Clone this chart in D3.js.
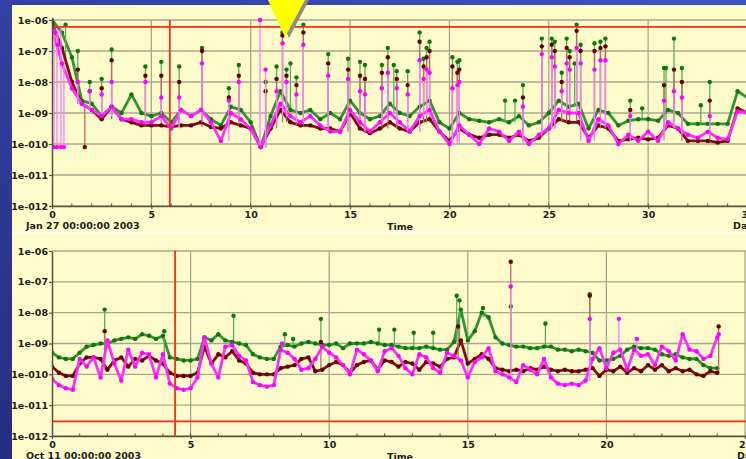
<!DOCTYPE html>
<html>
<head>
<meta charset="utf-8">
<script src="https://cdn.jsdelivr.net/npm/d3@7"></script>
<style>
body { margin: 0; overflow: hidden; background: #2e3890; }
svg text { font-family: "DejaVu Sans", sans-serif; font-weight: bold; font-size: 9.5px; fill: #1d1d18; }
</style>
</head>
<body>
<svg width="746" height="459"></svg>
<script>
// y axis (log) ticks
var yTickValues = [1e-6, 1e-7, 1e-8, 1e-9, 1e-10, 1e-11, 1e-12];
var yTickLabels = ["1e-06", "1e-07", "1e-08", "1e-09", "1e-010", "1e-011", "1e-012"];

// ---- top panel: Jan 27 2003 ----
var topStart = "Jan 27 00:00:00 2003";
var topXTicks = [0, 5, 10, 15, 20, 25, 30, 35];
var topXLabels = ["0", "5", "10", "15", "20", "25", "30", "35"];
var topRedLevel = 6e-7, topRedTime = 5.93;

// sample times (days) and log10 of the flux for each series
var topT = [0,0.5,1,1.5,2,2.5,3,3.5,4,4.5,5,5.5,6,6.5,7,7.5,8,8.5,9,9.5,10,10.5,11,11.5,12,12.5,13,13.5,14,14.5,
  15,15.5,16,16.5,17,17.5,18,18.5,19,19.5,20,20.5,21,21.5,22,22.5,23,23.5,24,24.5,25,25.5,26,26.5,27,27.5,28,28.5,29,29.5,
  30,30.5,31,31.5,32,32.5,33,33.5,34,34.5,35];
var topGreen = [-6.0,-6.4,-7.2,-8.6,-8.7,-9.1,-8.8,-9.0,-8.4,-9.0,
  -9.1,-9.0,-9.3,-8.9,-9.1,-8.9,-9.2,-9.4,-8.8,-8.9,
  -9.3,-10.1,-9.1,-8.3,-8.9,-9.0,-8.9,-9.2,-9.0,-9.2,
  -8.6,-9.0,-9.2,-9.1,-8.7,-9.0,-9.1,-8.8,-8.6,-9.3,
  -9.5,-9.0,-9.2,-9.25,-9.3,-9.2,-9.3,-9.1,-9.4,-9.3,
  -9.0,-8.6,-8.8,-8.7,-9.5,-8.9,-9.0,-9.4,-9.25,-9.2,
  -9.2,-9.25,-8.9,-9.0,-9.35,-9.35,-9.35,-9.35,-9.35,-8.3,-8.5];
var topMaroon = [-6.1,-6.9,-8.0,-8.7,-8.9,-9.2,-8.8,-9.2,-9.3,-9.4,
  -9.4,-9.4,-9.45,-9.4,-9.4,-9.3,-9.45,-9.5,-9.3,-9.4,
  -9.5,-10.1,-9.5,-8.9,-9.3,-9.4,-9.4,-9.5,-9.5,-9.6,
  -9.0,-9.5,-9.65,-9.5,-9.3,-9.5,-9.6,-9.3,-9.2,-9.6,
  -9.9,-9.5,-9.7,-9.8,-9.7,-9.7,-9.8,-9.7,-9.9,-9.8,
  -9.5,-9.2,-9.3,-9.3,-9.8,-9.4,-9.5,-9.9,-9.85,-9.8,
  -9.85,-9.8,-9.4,-9.5,-9.9,-9.9,-9.9,-9.95,-9.9,-8.85,-9.0];
var topMagenta = [-6.3,-7.4,-8.2,-8.7,-8.9,-9.1,-8.8,-9.2,-9.2,-9.3,
  -9.3,-9.1,-9.5,-8.9,-9.1,-8.9,-9.3,-9.9,-9.0,-9.2,
  -9.5,-10.1,-9.4,-8.7,-9.1,-9.3,-9.1,-9.4,-9.6,-9.6,
  -8.9,-9.3,-9.6,-9.3,-9.0,-9.3,-9.6,-9.1,-8.9,-9.6,
  -10.0,-9.4,-9.7,-10.0,-9.5,-9.6,-9.9,-9.6,-10.0,-9.7,
  -9.5,-8.9,-9.0,-9.0,-9.9,-9.2,-9.4,-10.0,-9.7,-9.9,
  -9.6,-9.9,-9.3,-9.5,-9.7,-9.8,-9.6,-9.8,-9.85,-8.95,-9.0];
// flare peaks [time, log10 flux]
var topGreenPeaks = [[0.68,-6.15],[1.3,-7.0],[1.9,-8.0],[2.5,-7.9],[3.0,-6.95],[4.7,-7.5],[5.5,-7.35],[6.4,-7.5],[7.55,-6.9],
  [8.9,-8.2],[9.4,-7.45],[10.75,-8.0],[11.3,-7.5],[11.6,-6.4],[11.8,-7.6],[12.0,-7.4],[12.3,-7.85],[12.65,-6.15],[13.9,-7.1],
  [14.9,-7.25],[15.5,-7.35],[15.75,-7.45],[16.6,-7.45],[16.9,-6.9],[17.2,-7.45],[17.35,-7.65],[17.9,-7.65],[18.5,-6.4],
  [18.7,-7.25],[18.85,-6.9],[19.0,-6.7],[20.15,-7.2],[20.4,-7.35],[20.5,-7.3],[22.8,-8.6],[23.3,-8.6],[23.7,-8.1],
  [24.65,-6.6],[25.15,-6.6],[25.3,-6.7],[25.65,-7.7],[25.9,-6.6],[26.05,-7.0],[26.3,-7.4],[26.4,-6.15],[26.6,-6.8],
  [27.3,-6.75],[27.6,-6.7],[27.85,-6.6],[29.1,-8.6],[29.7,-8.85],[30.8,-7.55],[30.9,-7.55],[31.3,-6.6],[31.7,-7.55],
  [32.65,-8.75],[33.1,-8.0]];
var topMaroonPeaks = [[1.3,-7.6],[1.65,-10.1],[1.9,-8.3],[2.5,-8.2],[3.0,-7.3],[4.7,-7.8],[5.5,-7.8],[6.4,-8.0],[7.55,-7.0],
  [8.9,-8.5],[9.4,-7.8],[10.75,-8.3],[11.3,-7.9],[11.6,-6.5],[11.8,-7.8],[12.3,-8.1],[12.65,-6.4],[13.9,-7.4],[14.9,-7.6],
  [15.5,-7.8],[15.75,-7.9],[16.6,-7.7],[16.9,-7.2],[17.35,-7.9],[17.9,-8.1],[18.5,-6.7],[18.7,-7.5],[18.85,-7.2],[19.0,-7.0],
  [20.15,-7.5],[20.4,-7.7],[20.5,-7.6],[23.7,-8.5],[24.65,-6.85],[25.15,-6.8],[25.3,-7.0],[25.65,-8.0],[25.9,-6.9],
  [26.05,-7.2],[26.4,-6.35],[26.6,-7.0],[27.3,-7.0],[27.6,-6.9],[27.85,-6.85],[29.1,-8.9],[30.8,-8.1],[31.3,-7.6],
  [31.7,-8.0],[33.1,-8.6]];
var topMagentaPeaks = [[0.1,-10.1],[0.15,-6.4],[0.25,-10.1],[0.3,-6.8],[0.45,-10.1],[0.6,-10.1],[1.3,-8.0],[1.9,-8.3],
  [2.5,-8.4],[3.0,-8.0],[4.7,-8.0],[5.5,-8.5],[6.4,-8.5],[7.55,-7.4],[8.9,-8.6],[9.4,-8.0],[10.47,-6.0],[10.75,-7.6],
  [11.3,-8.3],[11.6,-6.75],[11.8,-8.0],[12.3,-8.4],[12.65,-6.8],[13.9,-7.8],[14.9,-7.9],[15.5,-8.3],[15.75,-8.4],
  [16.6,-8.2],[16.9,-7.7],[17.35,-8.2],[17.9,-8.4],[18.5,-7.3],[18.7,-7.9],[18.85,-7.6],[19.0,-7.7],[20.15,-8.2],
  [20.4,-8.1],[20.5,-8.0],[23.7,-8.8],[24.65,-7.1],[25.15,-7.2],[25.3,-7.5],[25.65,-8.3],[25.9,-7.4],[26.05,-7.6],
  [26.4,-6.9],[26.6,-7.4],[27.3,-7.6],[27.6,-7.3],[27.85,-7.3],[29.1,-9.1],[30.8,-8.6],[31.3,-8.3],[31.7,-8.5],[33.1,-9.1]];

// ---- bottom panel: Oct 11 2003 ----
var botStart = "Oct 11 00:00:00 2003";
var botXTicks = [0, 5, 10, 15, 20, 25];
var botXLabels = ["0", "5", "10", "15", "20", "25"];
var botRedLevel = 3e-12, botRedTime = 4.44;

var botT = [0,0.25,0.5,0.75,1,1.25,1.5,1.75,
  2,2.25,2.5,2.75,3,3.25,3.5,3.75,
  4,4.25,4.5,4.75,5,5.25,5.5,5.75,
  6,6.25,6.5,6.75,7,7.25,7.5,7.75,
  8,8.25,8.5,8.75,9,9.25,9.5,9.75,
  10,10.25,10.5,10.75,11,11.25,11.5,11.75,
  12,12.25,12.5,12.75,13,13.25,13.5,13.75,
  14,14.25,14.5,14.75,15,15.25,15.5,15.75,
  16,16.25,16.5,16.75,17,17.25,17.5,17.75,
  18,18.25,18.5,18.75,19,19.25,19.5,19.75,
  20,20.25,20.5,20.75,21,21.25,21.5,21.75,
  22,22.25,22.5,22.75,23,23.25,23.5,23.75,
  24];
var botGreen = [-9.3,-9.45,-9.5,-9.5,-9.3,-9.1,-9.05,-9.0,
  -9.0,-8.9,-8.85,-8.8,-8.85,-8.7,-8.75,-8.85,
  -8.75,-9.45,-9.5,-9.55,-9.55,-9.5,-8.8,-8.9,
  -8.7,-8.9,-8.95,-9.0,-9.05,-9.35,-9.45,-9.5,
  -9.5,-9.1,-9.05,-9.1,-9.0,-8.95,-9.0,-9.05,
  -9.05,-9.0,-9.15,-9.0,-9.0,-9.0,-8.95,-9.0,
  -9.05,-9.05,-9.1,-9.15,-9.15,-9.15,-9.1,-9.15,
  -9.2,-9.2,-8.95,-7.9,-8.9,-8.6,-8.0,-8.15,
  -8.8,-9.0,-9.05,-9.1,-9.1,-9.15,-9.15,-9.1,
  -9.1,-9.2,-9.2,-9.25,-9.2,-9.25,-9.3,-9.55,
  -9.55,-9.5,-9.4,-9.2,-9.1,-9.15,-9.15,-9.2,
  -9.35,-9.4,-9.35,-9.45,-9.5,-9.5,-9.7,-9.8,
  -9.8];
var botMaroon = [-9.75,-9.95,-10.05,-10.05,-9.65,-9.45,-9.45,-9.5,
  -9.85,-9.55,-9.45,-9.75,-9.5,-9.55,-9.4,-9.55,
  -9.65,-9.95,-10.05,-10.05,-10.05,-9.95,-9.1,-9.65,
  -9.35,-9.45,-9.25,-9.55,-9.65,-9.95,-10.0,-10.0,
  -10.0,-9.8,-9.75,-9.7,-9.5,-9.45,-9.9,-9.85,
  -9.7,-9.6,-9.7,-9.95,-9.7,-9.6,-9.55,-9.85,
  -9.55,-9.6,-9.75,-9.6,-9.65,-9.85,-9.6,-9.65,
  -9.75,-9.5,-9.45,-8.9,-9.65,-9.5,-9.35,-9.5,
  -9.8,-9.85,-9.9,-9.85,-9.9,-9.8,-9.85,-9.75,
  -9.85,-9.9,-9.85,-9.9,-9.9,-9.85,-9.8,-10.05,
  -9.85,-9.9,-9.75,-9.95,-9.8,-9.9,-9.7,-9.85,
  -9.7,-9.9,-9.8,-9.9,-9.85,-10.0,-10.05,-9.9,
  -9.95];
var botMagenta = [-10.15,-10.35,-10.45,-10.5,-9.5,-9.75,-9.45,-10.1,
  -8.9,-9.65,-10.2,-9.2,-9.75,-9.3,-9.35,-10.1,
  -9.35,-10.3,-10.45,-10.5,-10.45,-10.1,-8.8,-9.65,
  -10.1,-9.1,-9.05,-9.4,-9.55,-10.25,-10.35,-10.4,
  -10.35,-9.2,-9.3,-9.5,-9.85,-9.8,-9.5,-9.1,
  -9.3,-9.45,-9.7,-10.0,-9.2,-9.35,-9.55,-9.9,
  -9.25,-9.15,-9.4,-9.8,-10.0,-9.35,-9.45,-9.8,
  -9.95,-9.3,-9.4,-9.55,-10.1,-9.6,-9.45,-9.15,
  -9.9,-10.0,-10.1,-10.25,-9.7,-9.85,-10.0,-9.5,
  -10.1,-10.3,-10.35,-10.3,-10.35,-10.2,-9.5,-9.15,
  -9.8,-9.3,-9.2,-9.85,-9.2,-9.4,-9.35,-9.7,
  -9.1,-9.25,-9.55,-8.7,-9.2,-9.25,-9.5,-9.4,
  -8.8];
var botGreenPeaks = [[1.9,-7.9],[4.05,-8.6],[6.55,-8.1],[8.4,-8.7],[8.7,-8.85],[9.7,-8.2],[11.8,-8.55],[12.35,-8.55],
  [13.05,-8.65],[13.75,-8.65],[14.6,-7.45],[14.7,-7.6],[15.55,-7.85],[16.55,-7.8],[17.8,-8.35],[19.4,-7.4]];
var botMaroonPeaks = [[1.9,-8.6],[9.7,-8.95],[14.65,-8.45],[16.55,-6.35],[19.4,-7.45],[24.05,-8.45]];
var botMagentaPeaks = [[8.3,-9.0],[16.55,-7.15],[19.4,-8.2],[20.45,-8.2],[21.1,-8.85],[24.05,-8.7]];

var svg = d3.select("svg");
var defs = svg.append("defs");

var bg = defs.append("linearGradient").attr("id", "bg")
    .attr("x1", "100%").attr("y1", "0%").attr("x2", "0%").attr("y2", "100%");
bg.append("stop").attr("offset", "0%").attr("stop-color", "#3f53c8");
bg.append("stop").attr("offset", "100%").attr("stop-color", "#262e80");

svg.append("rect").attr("width", 746).attr("height", 459).attr("fill", "url(#bg)");
svg.append("rect").attr("x", 12).attr("y", 5).attr("width", 734).attr("height", 454).attr("fill", "#fdfcca");
svg.append("line").attr("x1", 12).attr("x2", 746).attr("y1", 233).attr("y2", 233)
    .attr("stroke", "#ffffff").attr("stroke-width", 2).attr("opacity", 0.75);

var colors = {
    green:   {line: "#2f952f", stem: "#5aae5a", dot: "#0c780c"},
    maroon:  {line: "#7e1010", stem: "#b86a6a", dot: "#660000"},
    magenta: {line: "#ff2cff", stem: "#ff7cff", dot: "#ff00ff"}
};

var panels = [
    {id: "top", t: topT, xMax: 35, xRight: 747.5, top: 20, bottom: 206,
     series: [["green", topGreen, topGreenPeaks], ["maroon", topMaroon, topMaroonPeaks], ["magenta", topMagenta, topMagentaPeaks]],
     ticks: topXTicks, labels: topXLabels, start: topStart, redLevel: topRedLevel, redTime: topRedTime, dayX: 733},
    {id: "bot", t: botT, xMax: 25, xRight: 745, top: 251, bottom: 436,
     series: [["green", botGreen, botGreenPeaks], ["maroon", botMaroon, botMaroonPeaks], ["magenta", botMagenta, botMagentaPeaks]],
     ticks: botXTicks, labels: botXLabels, start: botStart, redLevel: botRedLevel, redTime: botRedTime, dayX: 737}
];

function pw(e) { return Math.pow(10, e); }

panels.forEach(function(p) {
    var x = d3.scaleLinear().domain([0, p.xMax]).range([52, p.xRight]);
    var y = d3.scaleLog().domain([1e-12, 1e-6]).range([p.bottom, p.top]);
    var g = svg.append("g");

    defs.append("clipPath").attr("id", "clip-" + p.id)
        .append("rect").attr("x", 52).attr("y", p.top - 6)
        .attr("width", 694).attr("height", p.bottom - p.top + 6);

    // grid
    g.selectAll(".hgrid").data(yTickValues).enter().append("line")
        .attr("x1", 52).attr("x2", 746)
        .attr("y1", function(d) { return y(d); }).attr("y2", function(d) { return y(d); })
        .attr("stroke", "#aaa68e").attr("stroke-width", 1.3);
    g.selectAll(".vgrid").data(p.ticks.filter(function(d) { return d > 0; })).enter().append("line")
        .attr("x1", function(d) { return x(d); }).attr("x2", function(d) { return x(d); })
        .attr("y1", p.top).attr("y2", p.bottom)
        .attr("stroke", "#aaa68e").attr("stroke-width", 1.3);

    // series
    var data = g.append("g").attr("clip-path", "url(#clip-" + p.id + ")");
    var line = d3.line()
        .x(function(d) { return x(d[0]); })
        .y(function(d) { return y(pw(d[1])); });

    p.series.forEach(function(s) {
        var c = colors[s[0]], vals = s[1], peaks = s[2];
        var pts = p.t.map(function(t, i) { return [t, vals[i]]; });

        data.append("path").datum(pts)
            .attr("d", line).attr("fill", "none")
            .attr("stroke", c.line).attr("stroke-width", 2.8).attr("stroke-linejoin", "round");

        data.selectAll(".stem-" + s[0]).data(peaks).enter().append("line")
            .attr("x1", function(d) { return x(d[0]); })
            .attr("x2", function(d) { return x(d[0]); })
            .attr("y1", function(d) {
                var i = d3.bisectLeft(p.t, d[0]);
                var a = vals[Math.max(i - 1, 0)], b = vals[Math.min(i, vals.length - 1)];
                var foot = d[1] > Math.max(a, b) ? Math.min(a, b) : Math.max(a, b);
                return y(pw(foot));
            })
            .attr("y2", function(d) { return y(pw(d[1])); })
            .attr("stroke", c.stem).attr("stroke-width", 1.3);

        data.selectAll(".dot-" + s[0]).data(pts.concat(peaks)).enter().append("circle")
            .attr("cx", function(d) { return x(d[0]); })
            .attr("cy", function(d) { return y(pw(d[1])); })
            .attr("r", 2.2)
            .attr("fill", c.dot);
    });

    // red markers
    g.append("line").attr("x1", 52).attr("x2", 746)
        .attr("y1", y(p.redLevel)).attr("y2", y(p.redLevel))
        .attr("stroke", "#ff2a1a").attr("stroke-width", 1.8);
    g.append("line").attr("x1", x(p.redTime)).attr("x2", x(p.redTime))
        .attr("y1", p.top).attr("y2", p.bottom)
        .attr("stroke", "#ff2a1a").attr("stroke-width", 1.8);

    // axes
    var yAxis = g.append("g").attr("transform", "translate(52,0)")
        .call(d3.axisLeft(y).tickValues(yTickValues)
            .tickFormat(function(d, i) { return yTickLabels[i]; })
            .tickSize(3).tickSizeOuter(0).tickPadding(1));
    var xAxis = g.append("g").attr("transform", "translate(0," + p.bottom + ")")
        .call(d3.axisBottom(x).tickValues(p.ticks)
            .tickFormat(function(d, i) { return p.labels[i]; })
            .tickSize(3).tickSizeOuter(0).tickPadding(2.4));
    [yAxis, xAxis].forEach(function(a) {
        a.select(".domain").attr("stroke", "#55533e").attr("stroke-width", 1.5);
        a.selectAll(".tick line").attr("stroke", "#55533e").attr("stroke-width", 1.2);
    });

    // minor day ticks
    g.selectAll(".minor").data(d3.range(1, p.xMax)).enter().append("line")
        .attr("x1", function(d) { return x(d); }).attr("x2", function(d) { return x(d); })
        .attr("y1", p.bottom - 2.5).attr("y2", p.bottom)
        .attr("stroke", "#55533e").attr("stroke-width", 1);

    g.append("text").attr("x", 26).attr("y", p.bottom + 23).text(p.start);
    g.append("text").attr("x", 400).attr("y", p.bottom + 23.5).attr("text-anchor", "middle").text("Time");
    g.append("text").attr("x", p.dayX).attr("y", p.bottom + 23).text("Days");
});

// pointer arrow
svg.append("polygon").attr("points", "272,0 309,0 289,38").attr("fill", "#8c8c84");
svg.append("polygon").attr("points", "268,0 305,0 285,37").attr("fill", "#ffff00");
</script>
</body>
</html>
